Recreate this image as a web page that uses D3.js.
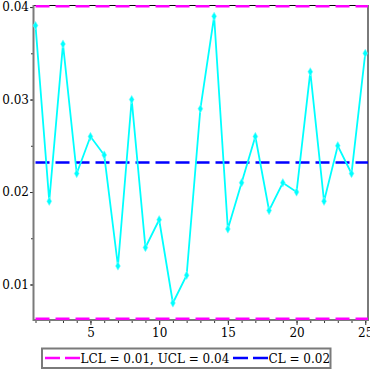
<!DOCTYPE html>
<html>
<head>
<meta charset="utf-8">
<script src="https://cdn.jsdelivr.net/npm/d3@7"></script>
<style>
  html, body { margin: 0; padding: 0; background: #fff; }
  svg { display: block; font-family: "DejaVu Serif", "Liberation Serif", serif; }
</style>
</head>
<body>
<div id="chart"></div>
<script>
// ── Data ─────────────────────────────────────────────────────────
const samples = d3.range(1, 26);
const proportions = [
  0.038, 0.019, 0.036, 0.022, 0.026, 0.024, 0.012, 0.030, 0.014, 0.017,
  0.008, 0.011, 0.029, 0.039, 0.016, 0.021, 0.026, 0.018, 0.021, 0.020,
  0.033, 0.019, 0.025, 0.022, 0.035
];
const LCL = 0.0063;
const UCL = 0.0401;
const CL = 0.0232;
const xTicks = [5, 10, 15, 20, 25];
const yTicks = [0.01, 0.02, 0.03, 0.04];
const yMinorTicks = [0.01, 0.015, 0.02, 0.025, 0.03, 0.035, 0.04];
const legendItems = [
  { label: 'LCL = 0.01, UCL = 0.04', color: '#ff00ff' },
  { label: 'CL = 0.02', color: '#0000ff' },
];

// ── Layout ───────────────────────────────────────────────────────
const W = 370, H = 370;
const plot = { left: 34, right: 368, top: 5.5, bottom: 320 };
const axisGray = '#7a7a7a';
const fontStack = '"DejaVu Serif", "Liberation Serif", serif';

const svg = d3.select('#chart').append('svg')
  .attr('width', W)
  .attr('height', H);

const x = d3.scaleLinear().domain([0.89, 25.2]).range([plot.left, plot.right]);
const y = d3.scaleLinear().domain([0.00616, 0.04017]).range([plot.bottom, plot.top]);

// Axes: major ticks with labels, minor ticks without
const xAxis = svg.append('g').attr('transform', `translate(0,${plot.bottom})`);
xAxis.call(d3.axisBottom(x).tickValues(samples).tickSize(3).tickFormat(''));
xAxis.call(g => g.append('g').call(d3.axisBottom(x).tickValues(xTicks).tickSize(5).tickPadding(3)));

const yAxis = svg.append('g').attr('transform', `translate(${plot.left},0)`);
yAxis.call(d3.axisLeft(y).tickValues(yMinorTicks).tickSize(3).tickFormat(''));
yAxis.call(g => g.append('g').call(
  d3.axisLeft(y).tickValues(yTicks).tickSize(4).tickPadding(1).tickFormat(d3.format('.2f'))
));

svg.selectAll('.domain').remove();
svg.selectAll('.tick line').attr('stroke', '#333').attr('stroke-width', 1);
svg.selectAll('g').attr('font-family', null);
svg.selectAll('.tick text')
  .attr('fill', '#000')
  .attr('font-size', 12)
  .attr('font-family', fontStack);

// Frame
svg.append('line')
  .attr('x1', plot.left).attr('x2', plot.right)
  .attr('y1', plot.top).attr('y2', plot.top)
  .attr('stroke', '#000').attr('stroke-width', 1);
svg.append('line')
  .attr('x1', plot.right).attr('x2', plot.right)
  .attr('y1', plot.top - 0.5).attr('y2', plot.bottom + 1)
  .attr('stroke', axisGray).attr('stroke-width', 2);
svg.append('line')
  .attr('x1', plot.left - 0.5).attr('x2', plot.right + 1)
  .attr('y1', plot.bottom).attr('y2', plot.bottom)
  .attr('stroke', axisGray).attr('stroke-width', 2);
svg.append('line')
  .attr('x1', plot.left - 0.5).attr('x2', plot.left - 0.5)
  .attr('y1', plot.top - 0.5).attr('y2', plot.bottom + 1)
  .attr('stroke', axisGray).attr('stroke-width', 2);

// ── Control limits ───────────────────────────────────────────────
const limits = [
  { value: UCL, color: '#ff00ff' },
  { value: LCL, color: '#ff00ff' },
  { value: CL, color: '#0000ff' },
];
svg.selectAll('.limit')
  .data(limits)
  .enter()
  .append('line')
  .attr('class', 'limit')
  .attr('x1', x(1)).attr('x2', plot.right)
  .attr('y1', d => y(d.value)).attr('y2', d => y(d.value))
  .attr('stroke', d => d.color)
  .attr('stroke-width', 2.5)
  .attr('stroke-dasharray', '14,6');

// ── Data series ──────────────────────────────────────────────────
const pts = samples.map((s, i) => [s, proportions[i]]);
svg.append('path')
  .datum(pts)
  .attr('fill', 'none')
  .attr('stroke', '#00ffff')
  .attr('stroke-width', 1.8)
  .attr('d', d3.line().x(d => x(d[0])).y(d => y(d[1])));

svg.selectAll('.pt')
  .data(pts)
  .enter()
  .append('path')
  .attr('class', 'pt')
  .attr('transform', d => `translate(${x(d[0])},${y(d[1])})`)
  .attr('d', d3.symbol().type(d3.symbolDiamond).size(20))
  .attr('fill', '#00ffff')
  .attr('stroke', '#7ff')
  .attr('stroke-width', 0.6);

// ── Legend ───────────────────────────────────────────────────────
const legend = svg.append('g');
legend.append('rect')
  .attr('x', 42).attr('y', 348.5)
  .attr('width', 288.5).attr('height', 19.5)
  .attr('fill', '#fff')
  .attr('stroke', axisGray)
  .attr('stroke-width', 2);

const itemX = [45, 233];
legendItems.forEach((item, i) => {
  const g = legend.append('g').attr('transform', `translate(${itemX[i]},358)`);
  g.append('line')
    .attr('x1', 0).attr('x2', 35)
    .attr('y1', 0).attr('y2', 0)
    .attr('stroke', item.color)
    .attr('stroke-width', 2.5)
    .attr('stroke-dasharray', '15,5');
  g.append('text')
    .attr('x', 35.5).attr('y', 4.5)
    .attr('font-size', 12)
    .attr('font-family', fontStack)
    .attr('fill', '#000')
    .text(item.label);
});
</script>
</body>
</html>
